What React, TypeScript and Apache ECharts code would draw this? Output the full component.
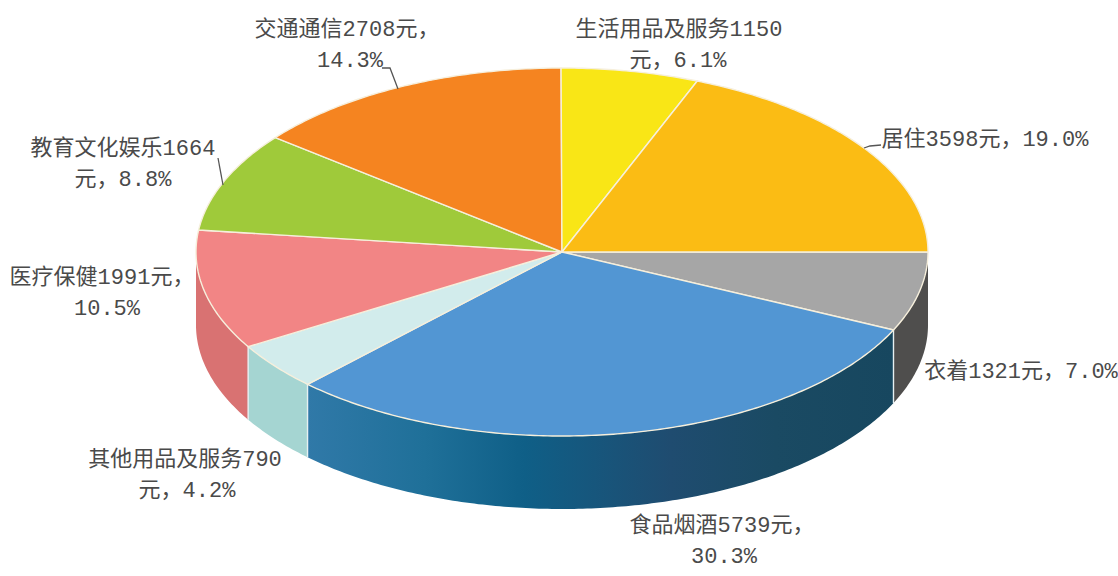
import React, { useEffect, useRef } from "react";
import * as echarts from "echarts";

const categories = ["衣着", "食品烟酒", "其他用品及服务", "医疗保健", "教育文化娱乐", "交通通信", "生活用品及服务", "居住"];
const values = [1321, 5739, 790, 1991, 1664, 2708, 1150, 3598];
const percents = ["7.0%", "30.3%", "4.2%", "10.5%", "8.8%", "14.3%", "6.1%", "19.0%"];

const topColors = ["#a6a6a6", "#5296d3", "#d2ecec", "#f28585", "#9fca3a", "#f58420", "#f9e616", "#fbbc14"];
const sideColors: any[] = [
  "#4f4e4d",
  {
    type: "linear", x: 0, y: 0, x2: 1, y2: 0,
    colorStops: [
      { offset: 0, color: "#3079a8" },
      { offset: 0.2, color: "#1f7099" },
      { offset: 0.37, color: "#0f5f87" },
      { offset: 0.62, color: "#1f4c70" },
      { offset: 0.8, color: "#1a4a63" },
      { offset: 1, color: "#17475f" },
    ],
  },
  "#a5d5d2", "#d97272", "#9fca3a", "#f58420", "#f9e616", "#fbbc14",
];

const CX = 562, CY = 252, RX = 366, RY = 184, DEPTH = 73;
const total = values.reduce((a, b) => a + b, 0);

function spans() {
  let acc = 0;
  return values.map((v) => {
    const a0 = (acc / total) * 2 * Math.PI;
    acc += v;
    return [a0, (acc / total) * 2 * Math.PI];
  });
}
const sliceSpans = spans();

function arcPoints(a0: number, a1: number, dy = 0) {
  const n = Math.max(2, Math.ceil((a1 - a0) / 0.012));
  const pts: number[][] = [];
  for (let i = 0; i <= n; i++) {
    const t = a0 + ((a1 - a0) * i) / n;
    pts.push([CX + RX * Math.cos(t), CY + RY * Math.sin(t) + dy]);
  }
  return pts;
}

const labelLines = [
  [`${categories[0]}${values[0]}元，${percents[0]}`],
  [`${categories[1]}${values[1]}元，`, percents[1]],
  [`${categories[2]}${values[2]}`, `元，${percents[2]}`],
  [`${categories[3]}${values[3]}元，`, percents[3]],
  [`${categories[4]}${values[4]}`, `元，${percents[4]}`],
  [`${categories[5]}${values[5]}元，`, percents[5]],
  [`${categories[6]}${values[6]}`, `元，${percents[6]}`],
  [`${categories[7]}${values[7]}元，${percents[7]}`],
];
const lineAnchors = [
  [[1021, 372]],
  [[722, 526], [724, 557]],
  [[185, 460], [187, 491]],
  [[102, 278], [107, 309]],
  [[123, 149], [123, 180]],
  [[347, 30], [350, 61]],
  [[679, 30], [678, 61]],
  [[985, 140]],
];
const leaders = [
  [[382, 68], [390, 68], [398, 89]],
  [[218, 158], [223, 185]],
  [[864, 148], [870, 146], [881, 145]],
];

const FONT = '"Liberation Mono", "Noto Sans CJK SC", sans-serif';

export default function App() {
  const ref = useRef<HTMLDivElement>(null);
  useEffect(() => {
    document.body.style.margin = "0";
    const chart = echarts.init(ref.current!, undefined, { renderer: "svg" });
    const seam = (a: number) => {
      const x = CX + RX * Math.cos(a);
      const y = CY + RY * Math.sin(a);
      return {
        type: "line",
        shape: { x1: x, y1: y, x2: x, y2: y + DEPTH },
        style: { stroke: "#e6f0f2", lineWidth: 1.4 },
      };
    };
    chart.setOption({
      animation: false,
      backgroundColor: "#ffffff",
      series: [
        {
          type: "custom",
          coordinateSystem: "none",
          silent: true,
          z: 1,
          data: values,
          renderItem: (params: any) => {
            const i = params.dataIndex;
            const [s0, s1] = sliceSpans[i];
            const a0 = Math.max(s0, 0), a1 = Math.min(s1, Math.PI);
            if (a1 <= a0) return { type: "group", children: [] };
            const points = [...arcPoints(a0, a1), ...arcPoints(a0, a1, DEPTH).reverse()];
            const children: any[] = [
              { type: "polygon", shape: { points }, style: { fill: sideColors[i] } },
            ];
            if (i > 0) children.push(seam(a0));
            return { type: "group", children };
          },
        },
        {
          type: "custom",
          coordinateSystem: "none",
          silent: true,
          z: 2,
          data: values,
          renderItem: (params: any) => {
            const i = params.dataIndex;
            const [s0, s1] = sliceSpans[i];
            return {
              type: "polygon",
              shape: { points: [[CX, CY], ...arcPoints(s0, s1)] },
              style: { fill: topColors[i], stroke: "#f6efdc", lineWidth: 1.4, lineJoin: "round" },
            };
          },
        },
      ],
      graphic: [
        ...leaders.map((points) => ({
          type: "polyline",
          z: 5,
          shape: { points },
          style: { fill: "none", stroke: "#555555", lineWidth: 1.3 },
        })),
        ...labelLines.flatMap((lines, i) =>
          lines.map((text, j) => ({
            type: "text",
            z: 6,
            x: lineAnchors[i][j][0],
            y: lineAnchors[i][j][1],
            style: {
              text,
              font: `22px ${FONT}`,
              fill: "#4a4a4a",
              align: "center",
              verticalAlign: "middle",
            },
          }))
        ),
      ],
    });
    return () => chart.dispose();
  }, []);
  return <div ref={ref} style={{ width: 1118, height: 576, overflow: "hidden" }} />;
}
